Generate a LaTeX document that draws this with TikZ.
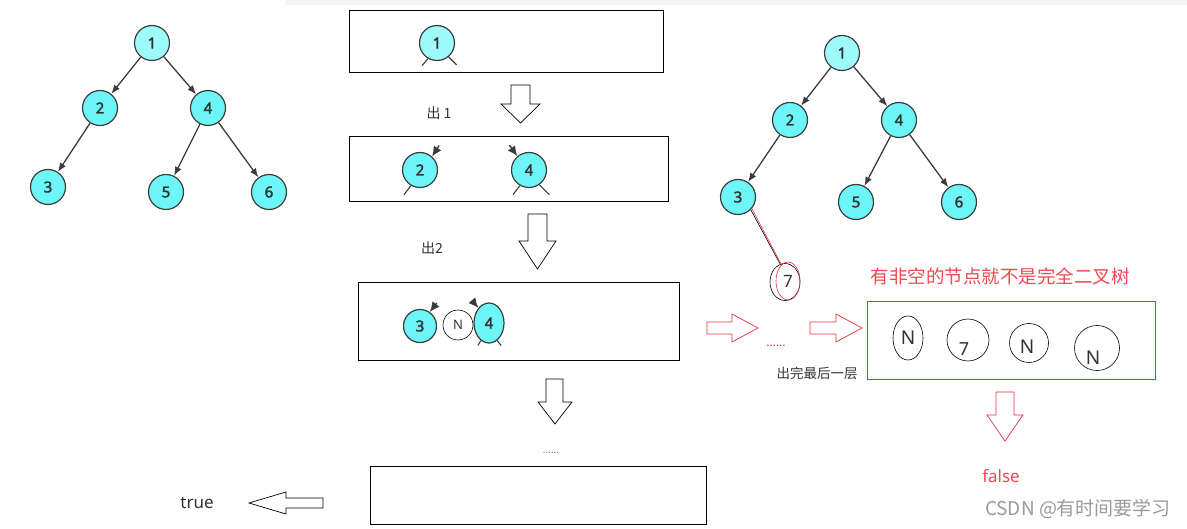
\documentclass[tikz,border=0pt]{standalone}
\usepackage{fontspec}
\setmainfont{Noto Sans}
\newfontfamily\cjk{Noto Sans CJK SC}
\newfontfamily\numfont{Noto Sans}[FakeBold=2.2]
\usepackage{tikz}
\usetikzlibrary{positioning,arrows.meta,shapes.geometric}
\definecolor{tfill}{HTML}{6CF6F7}
\definecolor{rootfill}{HTML}{9DFBFB}
\definecolor{tstroke}{HTML}{3C3C3C}
\definecolor{txt}{HTML}{333333}
\definecolor{hred}{HTML}{E8303A}
\definecolor{titlered}{HTML}{F04850}
\definecolor{wmark}{HTML}{9A9A9A}
\tikzset{
  tnode/.style={circle, fill=tfill, draw=tstroke, line width=1.2pt,
                minimum size=35pt, inner sep=0pt, text=txt,
                font=\numfont\fontsize{15}{15}\selectfont},
  rootnode/.style={tnode, fill=rootfill},
  qoval/.style={tnode, ellipse},
  nullnode/.style={circle, draw=black, line width=0.6pt, inner sep=0pt,
                   text=txt, font=\fontsize{13}{13}\selectfont},
  nulloval/.style={nullnode, ellipse},
  treeedge/.style={-{Latex[length=9pt,width=7pt]}, draw=tstroke, line width=1.3pt},
  stub/.style={draw=tstroke, line width=1.1pt},
  tipstub/.style={-{Latex[length=10pt,width=9pt]}, draw=tstroke, line width=1.4pt},
  qbox/.style={draw=black, line width=1pt, inner sep=0pt},
  blockarrow/.style={draw=black, line width=0.7pt, fill=white},
  redarrow/.style={blockarrow, draw=hred},
  note/.style={text=txt, font=\cjk\fontsize{14}{14}\selectfont}
}
\begin{document}
\begin{tikzpicture}[x=1pt, y=-1pt]
  \useasboundingbox (0,0) rectangle (1187,529);
  \fill[black!4] (285,0) rectangle (1187,5);

  % --- left tree ---
  \node[rootnode] (l1) at (152,43) {1};
  \node[tnode] (l2) at (100,108) {2};
  \node[tnode] (l4) at (208,108) {4};
  \node[tnode] (l3) at (48,187) {3};
  \node[tnode] (l5) at (166,192) {5};
  \node[tnode] (l6) at (269,192) {6};
  \foreach \a/\b in {l1/l2, l1/l4, l2/l3, l4/l5, l4/l6}
    \draw[treeedge] (\a) -- (\b);

  % --- queue, step 1 ---
  \node[qbox, minimum width=314, minimum height=62] (box1) at (506,42) {};
  \node[rootnode] (q1a) at (437,43) {1};
  \draw[stub] (q1a.-120) -- ++(-6,7);
  \draw[stub] (q1a.-50) -- ++(8,8);
  \draw[blockarrow] (511,85) -- (530,85) -- (530,104) -- (540,104)
    -- (520.5,123) -- (501,104) -- (511,104) -- cycle;
  \node[note] (out1) at (439,113) {出 1};

  % --- queue, step 2 ---
  \node[qbox, minimum width=319, minimum height=65] (box2) at (508.5,169.5) {};
  \node[tnode] (q2a) at (420,170) {2};
  \node[tnode] (q2b) at (529,170) {4};
  \draw[tipstub] (q2a.48) ++(7,-11) -- (q2a.48);
  \draw[stub] (q2a.-120) -- ++(-7,9);
  \draw[tipstub] (q2b.130) ++(-8,-11) -- (q2b.130);
  \draw[stub] (q2b.-120) -- ++(-7,9);
  \draw[stub] (q2b.-55) -- ++(10,10);
  \draw[blockarrow] (528,214) -- (547,214) -- (547,241) -- (556,241)
    -- (537.5,269) -- (519,241) -- (528,241) -- cycle;
  \node[note] (out2) at (432,248) {出2};

  % --- queue, step 3 ---
  \node[qbox, minimum width=321, minimum height=78] (box3) at (518.5,322) {};
  \node[nullnode, minimum size=30] (q3n) at (458,325) {N};
  \node[tnode, minimum size=33] (q3a) at (420,326) {3};
  \node[qoval, minimum width=30, minimum height=40] (q3b) at (489,323) {4};
  \draw[tipstub] (q3a.55) ++(7,-9) -- (q3a.55);
  \draw[tipstub] (q3b.125) ++(-6,-7) -- (q3b.125);
  \draw[stub] (q3b.-115) -- ++(-3,5);
  \draw[stub] (q3b.-65) -- ++(4,5);
  \draw[blockarrow] (546,379) -- (563,379) -- (563,402) -- (572,402)
    -- (555,424) -- (538,402) -- (546,402) -- cycle;
  \node[text=black!55, font=\fontsize{10}{10}\selectfont] (dots) at (551,453) {......};

  % --- last queue, empty ---
  \node[qbox, minimum width=336, minimum height=58] (box4) at (538,495) {};
  \draw[blockarrow] (323,498) -- (286,498) -- (286,492) -- (249,503)
    -- (286,514) -- (286,508) -- (323,508) -- cycle;
  \node[text=txt, font=\fontsize{17}{17}\selectfont] (true) at (197,503) {true};

  % --- right tree with extra node 7 ---
  \node[rootnode] (r1) at (842,53) {1};
  \node[tnode] (r2) at (790,120) {2};
  \node[tnode] (r4) at (899,120) {4};
  \node[tnode] (r3) at (738,197) {3};
  \node[tnode] (r5) at (856,202) {5};
  \node[tnode] (r6) at (959,202) {6};
  \foreach \a/\b in {r1/r2, r1/r4, r2/r3, r4/r5, r4/r6}
    \draw[treeedge] (\a) -- (\b);
  \node[nulloval, minimum width=30, minimum height=37] (r7) at (785,282) {};
  \node[ellipse, draw=hred, line width=0.6pt, minimum width=24, minimum height=38,
        inner sep=0pt, text=txt, font=\fontsize{17}{17}\selectfont] (r7red) at (788,281) {7};
  \draw[black, line width=0.6pt] (r3.-45) -- (r7.105);
  \draw[hred, line width=0.6pt] (r3.-40) -- (r7red.112);

  % --- red path to false ---
  \draw[redarrow] (707,322) -- (732,322) -- (732,314) -- (758,328)
    -- (732,342) -- (732,334) -- (707,334) -- cycle;
  \node[text=hred, font=\fontsize{12}{12}\selectfont] (reddots) at (776,346) {......};
  \node[note, font=\cjk\fontsize{13.5}{14}\selectfont] (lastlvl) at (817,373) {出完最后一层};
  \draw[redarrow] (810,322) -- (836,322) -- (836,314) -- (862,328)
    -- (836,342) -- (836,334) -- (810,334) -- cycle;
  \node[text=titlered, font=\cjk\fontsize{18.5}{19}\selectfont] (title) at (1000,276)
    {有非空的节点就不是完全二叉树};
  \node[qbox, draw=hred, minimum width=288, minimum height=78] (fbox) at (1011,341) {};
  \node[nulloval, minimum width=30, minimum height=44, font=\fontsize{19}{19}\selectfont]
    (f1) at (908,338) {N};
  \node[nullnode, minimum size=42,
        label={[shift={(-4pt,-9pt)}, text=txt, font=\fontsize{18}{18}\selectfont]center:7}]
    (f2) at (968,340) {};
  \node[nullnode, minimum size=39,
        label={[shift={(-2pt,-4pt)}, text=txt, font=\fontsize{19}{19}\selectfont]center:N}]
    (f3) at (1029,343) {};
  \node[nullnode, minimum size=45,
        label={[shift={(-4pt,-10pt)}, text=txt, font=\fontsize{19}{19}\selectfont]center:N}]
    (f4) at (1097,348) {};
  \draw[redarrow] (996,392) -- (1014,392) -- (1014,415) -- (1023,415)
    -- (1005,441) -- (987,415) -- (996,415) -- cycle;
  \node[text=titlered, font=\fontsize{17}{17}\selectfont] (false) at (1001,476) {false};

  \node[text=wmark, font=\cjk\fontsize{19}{19}\selectfont] (mark) at (1078,509)
    {CSDN @有时间要学习};
\end{tikzpicture}
\end{document}
